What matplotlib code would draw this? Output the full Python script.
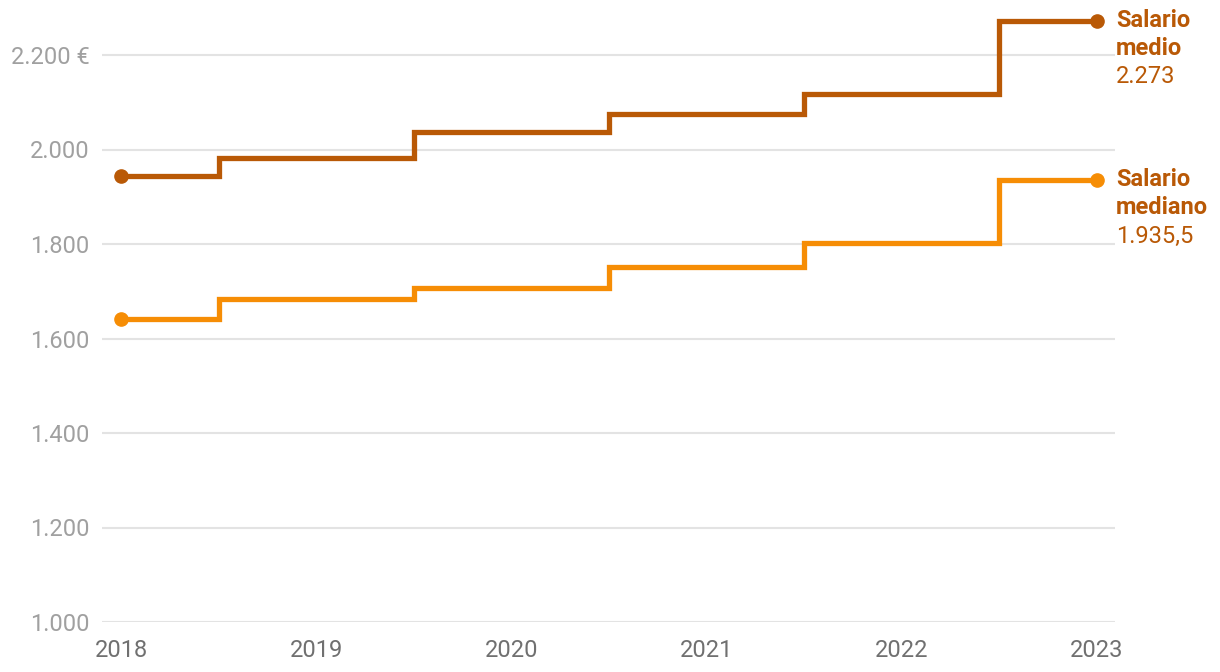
import matplotlib.pyplot as plt
import numpy as np

plt.rcParams['font.family'] = ['Roboto', 'DejaVu Sans']

years = [2018, 2019, 2020, 2021, 2022, 2023]
salario_medio = [1943, 1981, 2038, 2076, 2117, 2273]
salario_mediano = [1642, 1683, 1706, 1752, 1803, 1935.5]
yticks = [1000, 1200, 1400, 1600, 1800, 2000, 2200]
ytick_labels = ['1.000', '1.200', '1.400', '1.600', '1.800', '2.000', '2.200 €']

c_medio = '#b95906'
c_mediano = '#f68d05'
c_text = '#b95906'

fig = plt.figure(figsize=(12.2, 6.72), dpi=100)
ax = fig.add_axes([102/1220, 1-622/672, (1115-102)/1220, (622-10)/672])

# step lines (change halfway between years)
ax.step(years, salario_medio, where='mid', color=c_medio, lw=3.8,
        solid_joinstyle='miter', clip_on=False, zorder=3)
ax.step(years, salario_mediano, where='mid', color=c_mediano, lw=3.8,
        solid_joinstyle='miter', clip_on=False, zorder=3)
for vals, c in [(salario_medio, c_medio), (salario_mediano, c_mediano)]:
    ax.plot([years[0], years[-1]], [vals[0], vals[-1]], 'o', color=c, ms=9.5,
            clip_on=False, zorder=4)

ax.set_xlim(2018 - 19/195.2, 2023 + 18/195.2)
ylo = 1000
yhi = 2200 + (622 - 10 - 567) / 567 * 1200
ax.set_ylim(ylo, yhi)

ax.set_yticks(yticks)
ax.set_yticklabels(ytick_labels)
ax.set_xticks(years)
ax.set_xticklabels([str(y) for y in years])
ax.tick_params(axis='y', length=0, pad=9, labelsize=17, labelcolor='#a0a0a0')
ax.tick_params(axis='x', length=0, pad=12, labelsize=17, labelcolor='#707070')
ax.grid(axis='y', color='#e3e3e3', lw=1.5)
ax.set_axisbelow(True)
for s in ax.spines.values():
    s.set_visible(False)

# end labels
labels = [
    (salario_medio[-1], ['Salario', 'medio'], '2.273'),
    (salario_mediano[-1], ['Salario', 'mediano'], '1.935,5'),
]
for yv, bold_lines, val in labels:
    for i, t in enumerate(bold_lines + [val]):
        ax.annotate(t, (years[-1], yv), xytext=(19, -28*i), textcoords='offset pixels',
                    ha='left', va='center', fontsize=17, color=c_text,
                    fontweight='bold' if i < len(bold_lines) else 'normal',
                    annotation_clip=False)

fig.savefig('out.png', dpi=100)
